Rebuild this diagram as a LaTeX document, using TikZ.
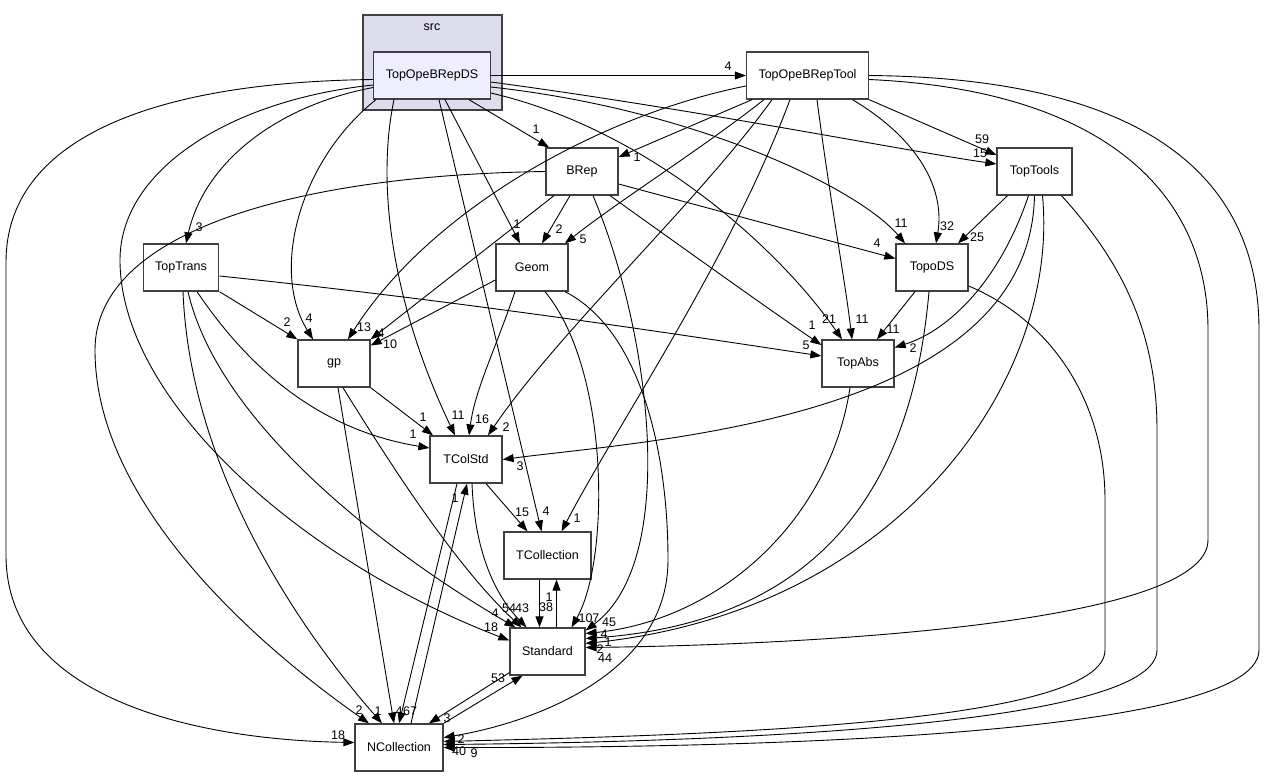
\documentclass[tikz,border=0pt]{standalone}
\usepackage{fontspec}
\setmainfont{Liberation Sans}
\usepackage{tikz}
\usetikzlibrary{arrows.meta}

\definecolor{clusterfill}{HTML}{DDDDEE}
\definecolor{curfill}{HTML}{EEEEFF}
\definecolor{boxline}{HTML}{404040}

\tikzset{
  dirbox/.style={draw=boxline, line width=1.3pt, fill=white, minimum width=72pt,
    minimum height=47pt, inner xsep=12pt, font=\fontsize{12.5}{14}\selectfont},
  dep/.style={draw=black, line width=0.9pt, -{Triangle[length=11pt,width=8pt]}},
  lbl/.style={font=\fontsize{12.5}{14}\selectfont, inner sep=0pt},
}

\begin{document}
\begin{tikzpicture}[x=1pt, y=-1pt]
    \useasboundingbox (0,0) rectangle (1264,777);
    % cluster
    \node[draw=boxline, line width=1.3pt, fill=clusterfill, minimum width=139pt, minimum height=95pt] (src) at (432.5,62.5) {};
    \node[lbl] (srclbl) at (432,27) {src};
    % directories
    \node[dirbox, fill=curfill] (ds) at (432,75.5) {TopOpeBRepDS};
    \node[dirbox] (tool) at (807.5,75.5) {TopOpeBRepTool};
    \node[dirbox] (brep) at (582,171.5) {BRep};
    \node[dirbox, minimum width=75pt] (tools) at (1034.5,171.5) {TopTools};
    \node[dirbox, minimum width=74pt] (trans) at (181,267.5) {TopTrans};
    \node[dirbox] (geom) at (532,267.5) {Geom};
    \node[dirbox] (topods) at (932,267.5) {TopoDS};
    \node[dirbox] (gp) at (334,363.5) {gp};
    \node[dirbox] (topabs) at (858,363.5) {TopAbs};
    \node[dirbox] (tcolstd) at (466,459.5) {TColStd};
    \node[dirbox, minimum width=87pt] (tcoll) at (547.5,555.5) {TCollection};
    \node[dirbox, minimum width=75pt] (std) at (547.5,651.5) {Standard};
    \node[dirbox, minimum width=88pt] (ncoll) at (399,747.5) {NCollection};

    % TopOpeBRepDS
    \draw[dep] (ds.east) -- (tool.west);
    \draw[dep] ([xshift=37pt]ds.south) -- ([xshift=-33pt]brep.north);
    \draw[dep] ([yshift=-12pt]ds.west) .. controls (280,105) and (205,160) .. ([xshift=5pt]trans.north);
    \draw[dep] ([xshift=-56pt]ds.south) .. controls (300,160) and (270,270) .. ([xshift=-21pt]gp.north);
    \draw[dep] ([xshift=-38pt]ds.south) .. controls (375,190) and (395,310) .. ([xshift=-11pt]tcolstd.north);
    \draw[dep] ([xshift=13pt]ds.south) -- ([xshift=-12pt]geom.north);
    \draw[dep] ([xshift=7pt]ds.south) -- ([xshift=-6pt]tcoll.north);
    \draw[dep] ([yshift=-17.5pt]ds.east) .. controls (650,130) and (780,250) .. ([xshift=-16pt]topabs.north);
    \draw[dep] ([yshift=-11.5pt]ds.east) .. controls (700,110) and (860,190) .. ([xshift=-27pt]topods.north);
    \draw[dep] ([yshift=-6.5pt]ds.east) .. controls (700,110) and (900,150) .. ([yshift=7.5pt]tools.west);
    \draw[dep] ([yshift=-9.5pt]ds.west) .. controls (230,100) and (120,170) .. (120,260)
      .. controls (120,400) and (300,560) .. ([yshift=11pt]std.west);
    \draw[dep] ([yshift=-4pt]ds.west) .. controls (150,82) and (6,140) .. (6,262) -- (6,555)
      .. controls (6,700) and (200,740) .. ([yshift=5pt]ncoll.west);

    % TopOpeBRepTool
    \draw[dep] ([xshift=-55.5pt]tool.south) -- ([yshift=14.5pt]brep.east);
    \draw[dep] ([yshift=-10.5pt]tool.west) .. controls (600,115) and (430,210) .. ([xshift=14pt]gp.north);
    \draw[dep] ([xshift=-43.5pt]tool.south) .. controls (700,150) and (620,200) .. ([xshift=33pt]geom.north);
    \draw[dep] ([xshift=-35.5pt]tool.south) .. controls (700,200) and (560,330) .. ([xshift=22pt]tcolstd.north);
    \draw[dep] ([xshift=-17.5pt]tool.south) .. controls (730,260) and (620,420) .. ([xshift=14pt]tcoll.north);
    \draw[dep] ([xshift=9.5pt]tool.south) .. controls (830,200) and (845,280) .. ([xshift=-6pt]topabs.north);
    \draw[dep] ([xshift=45pt]tool.south) .. controls (920,140) and (945,190) .. ([xshift=4pt]topods.north);
    \draw[dep] (tool.south east) -- ([yshift=16.5pt]tools.west);
    \draw[dep] ([yshift=-4pt]tool.east) .. controls (1100,90) and (1208,190) .. (1208,330) -- (1208,540)
      .. controls (1208,625) and (800,645) .. ([yshift=4pt]std.east);
    \draw[dep] (tool.east) .. controls (1150,78) and (1259,180) .. (1259,330) -- (1259,650)
      .. controls (1259,740) and (700,748) .. (ncoll.east);

    % BRep
    \draw[dep] ([xshift=-12pt]brep.south) -- ([xshift=10pt]geom.north);
    \draw[dep] ([xshift=-28pt]brep.south) -- (gp.north east);
    \draw[dep] ([xshift=11pt]brep.south) .. controls (650,330) and (680,560) .. ([yshift=21pt]std.east);
    \draw[dep] ([yshift=-12.5pt]brep.east) -- ([yshift=9pt]topods.west);
    \draw[dep] ([xshift=28pt]brep.south) .. controls (700,260) and (770,310) .. ([yshift=18.5pt]topabs.west);
    \draw[dep] (brep.west) .. controls (300,175) and (95,230) .. (95,350)
      .. controls (95,500) and (250,640) .. ([xshift=-30pt]ncoll.north);

    % Geom
    \draw[dep] ([yshift=-12.5pt]geom.west) -- ([yshift=18pt]gp.east);
    \draw[dep] ([xshift=-17pt]geom.south) .. controls (495,350) and (475,390) .. ([xshift=3pt]tcolstd.north);
    \draw[dep] ([xshift=13pt]geom.south) .. controls (610,370) and (610,560) .. ([xshift=24pt]std.north);
    \draw[dep] ([xshift=33pt]geom.south) .. controls (640,330) and (668,450) .. (668,560)
      .. controls (668,680) and (520,725) .. ([yshift=10pt]ncoll.east);

    % TopTools
    \draw[dep] ([xshift=-27pt]tools.south) -- ([xshift=26pt]topods.north);
    \draw[dep] ([xshift=-6pt]tools.south) .. controls (1000,280) and (950,330) .. ([yshift=16pt]topabs.east);
    \draw[dep] (tools.south) .. controls (1030,420) and (650,440) .. (tcolstd.east);
    \draw[dep] ([xshift=8pt]tools.south) .. controls (1060,380) and (900,610) .. ([yshift=8pt]std.east);
    \draw[dep] ([xshift=27pt]tools.south) .. controls (1120,260) and (1157,330) .. (1157,430) -- (1157,650)
      .. controls (1157,728) and (700,742) .. ([yshift=3pt]ncoll.east);

    % TopTrans
    \draw[dep] (trans.south east) -- (gp.north west);
    \draw[dep] ([yshift=-8.5pt]trans.east) .. controls (450,300) and (650,330) .. ([yshift=7.5pt]topabs.west);
    \draw[dep] ([xshift=16pt]trans.south) .. controls (250,370) and (320,430) .. ([yshift=11.5pt]tcolstd.west);
    \draw[dep] ([xshift=7pt]trans.south) .. controls (220,430) and (400,560) .. ([xshift=-32pt]std.north);
    \draw[dep] ([xshift=2pt]trans.south) .. controls (190,470) and (300,630) .. ([xshift=-17pt]ncoll.north);

    % TopoDS, TopAbs
    \draw[dep] ([xshift=-17pt]topods.south) -- ([xshift=19pt]topabs.north);
    \draw[dep] ([xshift=-3pt]topods.south) .. controls (915,450) and (850,620) .. ([yshift=13pt]std.east);
    \draw[dep] ([yshift=-18.5pt]topods.east) .. controls (1050,320) and (1105,400) .. (1105,500) -- (1105,650)
      .. controls (1105,725) and (700,735) .. ([yshift=6pt]ncoll.east);
    \draw[dep] ([xshift=-8pt]topabs.south) .. controls (830,520) and (720,620) .. ([yshift=18pt]std.east);

    % gp, TColStd, TCollection, Standard, NCollection
    \draw[dep] (gp.south east) -- ([xshift=-33pt]tcolstd.north);
    \draw[dep] ([xshift=9pt]gp.south) .. controls (400,480) and (460,570) .. ([xshift=-26pt]std.north);
    \draw[dep] ([xshift=4pt]gp.south) -- ([xshift=-5pt]ncoll.north);
    \draw[dep] ([xshift=20pt]tcolstd.south) -- ([xshift=-20pt]tcoll.north);
    \draw[dep] ([xshift=6pt]tcolstd.south) .. controls (475,560) and (500,600) .. ([xshift=-21pt]std.north);
    \draw[dep] ([xshift=-9pt]tcolstd.south) -- (ncoll.north);
    \draw[dep] ([xshift=12pt]ncoll.north) -- ([xshift=1pt]tcolstd.south);
    \draw[dep] ([xshift=-8pt]tcoll.south) -- ([xshift=-8pt]std.north);
    \draw[dep] ([xshift=9pt]std.north) -- ([xshift=9pt]tcoll.south);
    \draw[dep] ([yshift=3pt]std.south west) -- ([xshift=30pt]ncoll.north);
    \draw[dep] (ncoll.north east) -- ([xshift=-25pt]std.south);

    % edge counts
    \foreach \t/\lx/\ly [count=\i] in {4/728/66, 1/536/129, 3/199/227, 4/309/318, 11/458/415,
      1/517/224, 4/546/511, 21/829/319, 11/901/223, 15/980/153, 18/491/627, 18/338/735,
      1/637/157, 13/364/327, 5/583/239, 2/506/427, 1/577/518, 11/862/319, 32/947/226,
      59/982/139, 44/605/658, 9/474/753, 2/559/229, 4/381/333, 45/609/622, 4/877/243,
      1/812/325, 2/359/710, 10/390/344, 107/589/618, 2/461/739, 16/482/419, 25/977/237,
      2/913/348, 3/520/466, 2/600/649, 40/459/751, 2/287/322, 5/806/345, 1/413/434,
      4/495/613, 1/378/711, 1/423/417, 54/509/608, 4/399/711, 15/522/512, 43/522/608,
      67/410/711, 1/455/498, 38/546/607, 1/549/597, 3/447/718, 53/498/678, 11/893/329,
      1/608/642, 4/604/634}
      \node[lbl] (cnt\i) at (\lx,\ly) {\t};
\end{tikzpicture}
\end{document}
